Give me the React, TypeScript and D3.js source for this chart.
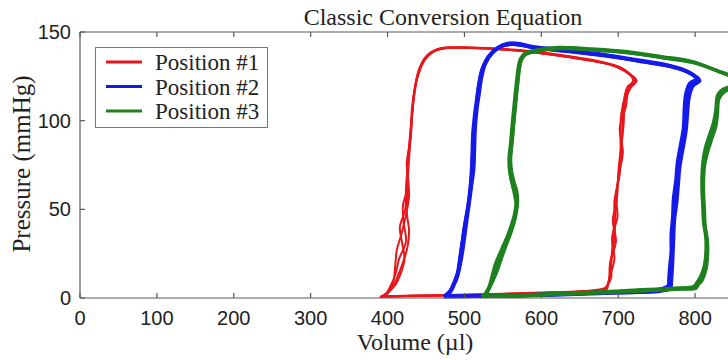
import React from "react";
import * as d3 from "d3";

type Pt = [number, number];

// Volume (µl) / pressure (mmHg) traces, several consecutive beats per catheter position
const position1Beats: Pt[][] = [
  [[394,1],[400,3],[407,6],[413,12],[420,20],[426,29],[428,38],[425,48],[426,60],[427,72],[429,85],[431,97],[433,110],[437,122],[443,131],[452,137],[466,140.5],[490,141],[540,140.5],[580,139],[625,136.5],[676,133],[702,130],[715,126],[722,123],[712,119],[708,113],[706,100],[705,90],[701,75],[699,62],[697,50],[694,38],[692,26],[690,14],[687,8],[685,5],[670,4],[620,3],[560,2.2],[500,1.6],[440,1.2],[394,1]],
  [[392,0.8],[399,2],[404,5],[408,10],[410,18],[412,27],[418,36],[424,47],[428,58],[426,70],[428,82],[430,95],[432,108],[436,120],[441,129],[450,136],[464,140],[488,141.3],[535,140.8],[585,139.3],[630,136.8],[675,133.5],[700,130.5],[713,127],[720,123.5],[716,120],[710,115],[704,104],[703,92],[703,78],[700,66],[695,54],[696,42],[694,30],[689,18],[688,10],[684,6],[665,4.3],[610,3.2],[550,2.4],[490,1.8],[430,1.2],[392,0.8]],
  [[396,1.2],[403,4],[411,8],[418,15],[422,22],[419,31],[416,40],[423,50],[424,62],[426,74],[428,86],[431,99],[434,112],[438,123],[445,132],[455,138],[470,141],[495,141.2],[545,140.3],[590,138.6],[635,136],[680,132.6],[705,129.5],[717,125.8],[724,122.5],[716,118.5],[709,111],[707,98],[704,85],[702,70],[697,58],[699,46],[692,34],[695,22],[689,12],[686,7],[683,4.5],[660,3.8],[600,2.8],[540,2],[480,1.5],[420,1.2],[396,1.2]],
  [[390,0.6],[398,2.5],[404,7],[410,13],[415,22],[424,32],[421,42],[420,52],[427,64],[425,76],[430,90],[432,103],[435,116],[440,126],[448,134],[460,139],[478,141],[510,141],[560,139.8],[610,137.5],[655,134.5],[690,131.5],[708,128],[718,124.5],[720,121.5],[713,117],[710,108],[702,96],[706,82],[700,68],[698,55],[693,44],[697,32],[690,20],[691,12],[686,7],[681,4],[650,3.5],[590,2.7],[530,2],[470,1.4],[420,1],[390,0.6]],
];

const position2Beats: Pt[][] = [
  [[475,1],[480,3],[484,6],[488,10],[492,15],[495,24],[498,33],[501,42],[505,52],[508,62],[510,72],[511,84],[512,95],[515,105],[517,114],[520,123],[525,131],[533,137],[545,141.5],[558,143],[572,142.8],[590,141.2],[630,139.5],[680,137],[730,133.5],[765,131],[785,128.5],[800,125],[804,123],[795,120],[790,114],[788,105],[786,95],[782,85],[778,75],[776,65],[774,55],[772,45],[771,35],[770,25],[769,16],[768,10],[767,6],[755,4],[720,3.4],[670,2.8],[620,2],[570,1.4],[520,1],[475,1]],
  [[473,0.8],[478,2.5],[483,5],[487,9],[491,14],[494,22],[497,31],[500,40],[504,50],[507,60],[509,70],[510,80],[511,92],[513,102],[516,112],[519,121],[523,129],[531,136],[543,141],[556,143.5],[570,143.5],[588,141.8],[628,140],[678,137.4],[728,134],[762,131.5],[783,129],[798,125.5],[802,123.5],[793,121],[788,115],[786,106],[785,96],[781,86],[777,76],[775,66],[772,56],[771,46],[769,36],[769,26],[767,17],[766,11],[765,7],[750,4.5],[715,3.6],[665,3],[615,2.2],[565,1.5],[515,1],[473,0.8]],
  [[477,1.2],[482,3.5],[486,7],[490,11],[493,16],[497,25],[500,34],[503,44],[506,53],[509,63],[512,73],[513,85],[514,96],[516,106],[519,115],[522,124],[527,132],[536,138],[548,142],[561,143.2],[575,142.5],[593,141],[633,139.2],[683,136.6],[733,133.2],[768,130.6],[788,128],[802,124.6],[806,122.5],[797,119.5],[792,113],[790,104],[788,94],[784,84],[780,74],[778,64],[776,54],[773,44],[772,34],[771,24],[770,15],[769,9],[768,5.5],[758,4.2],[725,3.3],[675,2.6],[625,1.9],[575,1.3],[525,1],[477,1.2]],
];

const position3Beats: Pt[][] = [
  [[524,1],[528,3],[532,6],[537,10],[541,14],[544,19],[548,24],[553,29],[558,34],[562,39],[566,45],[568,51],[567,57],[563,63],[560,69],[559,76],[561,85],[563,95],[565,104],[567,113],[569,121],[571,129],[574,134],[580,137.5],[592,139],[624,141],[668,140],[711,138.5],[760,135.5],[797,133],[832,127.5],[850,124.5],[858,122],[848,119],[836,116.5],[830,113],[828,105],[826,98],[820,90],[815,83],[811,75],[810,68],[810,60],[811,51],[812,42],[815,33],[815,24],[813,17],[808,11],[803,8],[800,6],[780,5.3],[740,4.5],[700,3.6],[650,2.7],[600,1.9],[560,1.3],[524,1]],
  [[522,0.8],[527,2.5],[531,5],[534,9],[537,14],[541,20],[546,25],[551,30],[556,35],[561,41],[565,47],[567,53],[565,59],[562,65],[559,71],[558,78],[560,87],[562,97],[564,106],[566,115],[568,123],[570,130],[573,135],[579,138],[590,139.5],[622,141.3],[666,140.4],[709,139],[758,136],[795,133.4],[830,128],[848,125],[856,122.5],[846,119.5],[834,117],[829,114],[827,106],[824,99],[818,91],[813,84],[810,76],[809,69],[809,61],[810,52],[811,43],[814,34],[814,25],[812,18],[807,12],[802,8.5],[798,6.5],[778,5.6],[738,4.8],[698,3.9],[648,3],[598,2.1],[558,1.4],[522,0.8]],
  [[526,1.2],[530,3.5],[534,7],[538,11],[543,16],[547,21],[551,26],[555,31],[559,36],[563,42],[567,48],[569,54],[568,60],[564,66],[561,72],[560,79],[562,88],[564,98],[566,107],[568,116],[570,124],[572,131],[575,135.5],[582,138],[594,139.3],[626,140.7],[670,139.8],[713,138.2],[762,135.2],[799,132.6],[834,127.2],[852,124.2],[860,121.8],[850,118.8],[838,116.2],[831,112.5],[829,104],[827,97],[821,89],[816,82],[812,74],[811,67],[811,59],[812,50],[813,41],[816,32],[816,23],[814,16],[809,10],[804,7.5],[801,5.5],[782,5],[742,4.2],[702,3.4],[652,2.5],[602,1.7],[562,1.1],[526,1.2]],
];

const seriesNames = ["Position #1", "Position #2", "Position #3"];
const seriesColors = ["rgb(232,22,26)", "rgb(22,26,232)", "rgb(30,128,30)"];
const seriesWidths = [2, 3.6, 3.4];
const allBeats = [position1Beats, position2Beats, position3Beats];

const xTicks = [0, 100, 200, 300, 400, 500, 600, 700, 800];
const yTicks = [0, 50, 100, 150];

const W = 728;
const H = 360;
const SANS = "'Liberation Sans', Arial, sans-serif";
const SERIF = "'Liberation Serif', 'Times New Roman', serif";
const AXIS = "#5a5a5a";
const TEXT = "#222";

export default function App() {
  const x = d3.scaleLinear().domain([0, 900]).range([80, 772]);
  const y = d3.scaleLinear().domain([0, 150]).range([298, 32]);
  const line = d3
    .line<Pt>()
    .x((d) => x(d[0]))
    .y((d) => y(d[1]))
    .curve(d3.curveCatmullRom.alpha(0.5));

  const [x0, x1] = x.range();
  const [yb, yt] = y.range();

  return (
    <div style={{ position: "absolute", left: 0, top: 0 }}>
      <svg width={W} height={H} style={{ display: "block", background: "#fff" }}>
        {/* traces */}
        {allBeats.map((beats, si) => (
          <g key={si} fill="none" stroke={seriesColors[si]} strokeWidth={seriesWidths[si]} strokeLinejoin="round">
            {beats.map((b, bi) => (
              <path key={bi} d={line(b) ?? ""} />
            ))}
          </g>
        ))}

        {/* frame */}
        <g stroke={AXIS} strokeWidth={1.2} fill="none">
          <line x1={x0} x2={x1} y1={yb} y2={yb} />
          <line x1={x0} x2={x1} y1={yt} y2={yt} />
          <line x1={x0} x2={x0} y1={yb} y2={yt} />
          {xTicks.map((t) => (
            <g key={t}>
              <line x1={x(t)} x2={x(t)} y1={yb} y2={yb - 5} />
              <line x1={x(t)} x2={x(t)} y1={yt} y2={yt + 5} />
            </g>
          ))}
          {yTicks.map((t) => (
            <line key={t} x1={x0} x2={x0 + 5} y1={y(t)} y2={y(t)} />
          ))}
        </g>

        {/* tick labels */}
        <g fontFamily={SANS} fontSize={20} fill={TEXT}>
          {xTicks.map((t) => (
            <text key={t} x={x(t)} y={325} textAnchor="middle">
              {t}
            </text>
          ))}
          {yTicks.map((t) => (
            <text key={t} x={71} y={y(t) + 7} textAnchor="end">
              {t}
            </text>
          ))}
        </g>

        {/* titles */}
        <g fontFamily={SERIF} fill={TEXT}>
          <text x={443} y={25} fontSize={24} textAnchor="middle">
            Classic Conversion Equation
          </text>
          <text x={415} y={350} fontSize={24} textAnchor="middle">
            Volume (µl)
          </text>
          <text transform="translate(30,164) rotate(-90)" fontSize={25} textAnchor="middle">
            Pressure (mmHg)
          </text>
        </g>

        {/* legend */}
        <g>
          <rect x={95.5} y={47.5} width={172} height={80} fill="#fff" stroke="#777" strokeWidth={1} />
          {seriesNames.map((name, i) => (
            <g key={name} transform={`translate(0,${62 + i * 24.5})`}>
              <line x1={106} x2={142} y1={0} y2={0} stroke={seriesColors[i]} strokeWidth={3} />
              <text x={155} y={8} fontFamily={SERIF} fontSize={23} fill={TEXT}>
                {name}
              </text>
            </g>
          ))}
        </g>
      </svg>
    </div>
  );
}
